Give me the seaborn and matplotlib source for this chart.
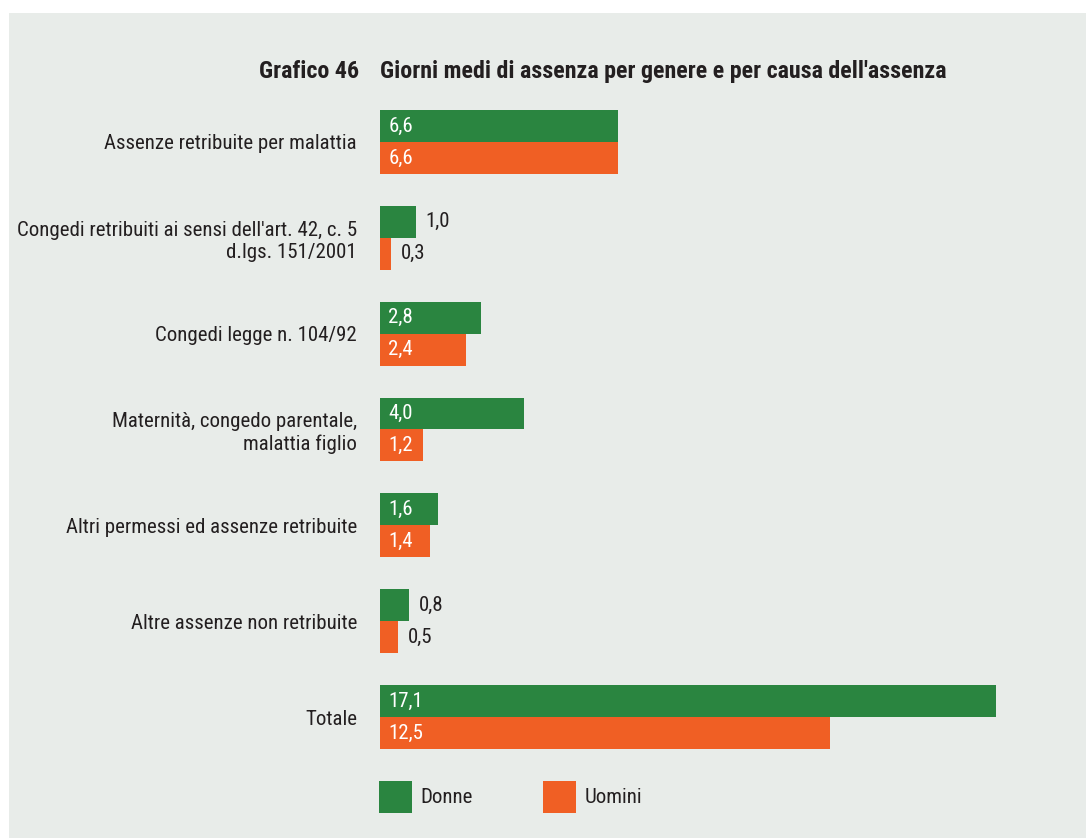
import matplotlib
matplotlib.use("Agg")
import matplotlib.pyplot as plt
from matplotlib.patches import Rectangle, Patch
import seaborn as sns
import pandas as pd

categories = [
    "Assenze retribuite per malattia",
    "Congedi retribuiti ai sensi dell'art. 42, c. 5\nd.lgs. 151/2001",
    "Congedi legge n. 104/92",
    "Maternità, congedo parentale,\nmalattia figlio",
    "Altri permessi ed assenze retribuite",
    "Altre assenze non retribuite",
    "Totale",
]
donne = [6.6, 1.0, 2.8, 4.0, 1.6, 0.8, 17.1]
uomini = [6.6, 0.3, 2.4, 1.2, 1.4, 0.5, 12.5]
series = ["Donne", "Uomini"]

GREEN = "#2a8540"
ORANGE = "#f05f24"
BG = "#e8ece9"
TXT = "#231f20"
FONT = ["Roboto Condensed", "DejaVu Sans"]

df = pd.DataFrame({
    "cat": categories * 2,
    "val": donne + uomini,
    "ser": [series[0]] * len(categories) + [series[1]] * len(categories),
})

sns.set_theme(style="white")
plt.rcParams["font.family"] = FONT

W, H = 1086, 838
fig = plt.figure(figsize=(W / 100, H / 100), dpi=100, facecolor="white")
fig.patches.append(Rectangle((9 / W, 0), 1, 1 - 13 / H, transform=fig.transFigure,
                             facecolor=BG, edgecolor="none", zorder=-10))

ax = fig.add_axes([380 / W, 1 - 765 / H, (996 - 380) / W, (765 - 94) / H])
sns.barplot(data=df, y="cat", x="val", hue="ser", order=categories,
            hue_order=series, palette=[GREEN, ORANGE], orient="h",
            width=0.667, ax=ax, legend=False, saturation=1, linewidth=0,
            edgecolor="none")
ax.set_facecolor("none")
ax.set_xlim(0, 17.1)
ax.set_ylim(6.5, -0.5)
ax.set_xlabel("")
ax.set_ylabel("")
ax.set_xticks([])
for s in ax.spines.values():
    s.set_visible(False)
ax.tick_params(axis="y", length=0, pad=16.5, labelsize=15, labelcolor=TXT)
for lbl in ax.get_yticklabels():
    lbl.set_horizontalalignment("right")
    lbl.set_linespacing(1.2)

for cont in ax.containers:
    for bar in cont:
        v = bar.get_width()
        yc = bar.get_y() + bar.get_height() / 2
        txt = f"{v:.1f}".replace(".", ",")
        if v >= 1.1:
            ax.annotate(txt, (0, yc), xytext=(6, 0), textcoords="offset points",
                        va="center", ha="left", color="white", fontsize=15)
        else:
            ax.annotate(txt, (v, yc), xytext=(7, 0), textcoords="offset points",
                        va="center", ha="left", color=TXT, fontsize=15)

fig.text(359 / W, 1 - 78 / H, "Grafico 46", ha="right", va="baseline",
         fontsize=17.3, fontweight="bold", color=TXT)
fig.text(380 / W, 1 - 78 / H, "Giorni medi di assenza per genere e per causa dell'assenza",
         ha="left", va="baseline", fontsize=17.3, fontweight="bold", color=TXT)

handles = [Patch(facecolor=GREEN, edgecolor="none"), Patch(facecolor=ORANGE, edgecolor="none")]
fig.legend(handles, series, loc="upper left", bbox_to_anchor=(379 / W, 1 - 781 / H),
           ncol=2, frameon=False, fontsize=15, handlelength=1.58, handleheight=1.95,
           handletextpad=0.4, columnspacing=3.4, borderpad=0, borderaxespad=0,
           labelcolor=TXT)

fig.savefig("out.png", dpi=100, facecolor="white")
